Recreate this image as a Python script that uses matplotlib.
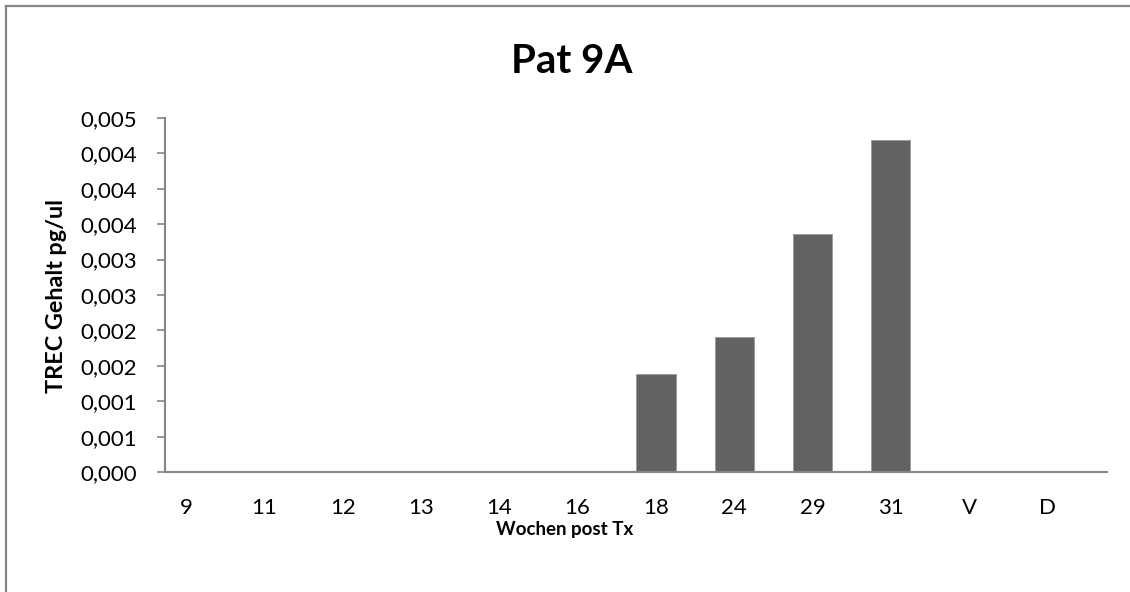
import matplotlib
matplotlib.use("Agg")
import matplotlib.pyplot as plt
from matplotlib.lines import Line2D

# TREC content per week after transplant
weeks = ['9', '11', '12', '13', '14', '16', '18', '24', '29', '31', 'V', 'D']
trec = [0, 0, 0, 0, 0, 0, 0.001382, 0.001903, 0.003356, 0.004681, 0, 0]

yticks = [0, 0.0005, 0.001, 0.0015, 0.002, 0.0025, 0.003, 0.0035, 0.004, 0.0045, 0.005]
ytick_labels = ['0,000', '0,001', '0,001', '0,002', '0,002', '0,003',
                '0,003', '0,004', '0,004', '0,004', '0,005']

plt.rcParams['font.family'] = ['Lato', 'DejaVu Sans']
axis_grey = '#868686'

fig = plt.figure(figsize=(11.3, 5.92), dpi=100)
ax = fig.add_axes([0.146, 0.2022, 0.8336, 0.599])

x = list(range(len(weeks)))
ax.bar(x, trec, width=0.5, color='#636363', edgecolor='#9a9a9a', linewidth=0.6, zorder=2)

ax.set_xlim(-0.27, 11.76)
ax.set_ylim(0, 0.005)
ax.set_xticks(x)
ax.set_xticklabels(weeks, fontsize=16)
ax.set_yticks(yticks)
ax.set_yticklabels(ytick_labels, fontsize=16)

ax.tick_params(axis='x', length=0, pad=18.5)
ax.tick_params(axis='y', length=5.8, width=1.2, color=axis_grey, pad=14.4)

for side in ['top', 'right']:
    ax.spines[side].set_visible(False)
for side in ['left', 'bottom']:
    ax.spines[side].set_color(axis_grey)
    ax.spines[side].set_linewidth(1.5)

# titles placed in figure coordinates
fig.text(0.506, 0.8772, 'Pat 9A', fontsize=29, fontweight='bold',
         ha='center', va='baseline')
fig.text(0.5, 0.106, 'Wochen post Tx', fontsize=13.5, fontweight='bold',
         ha='center', va='center')
fig.text(0.0504, 0.5, 'TREC Gehalt pg/ul', fontsize=16.8, fontweight='bold',
         ha='center', va='center', rotation=90)

# chart frame (top and left edges)
fig.add_artist(Line2D([0.0053, 0.0053], [0, 0.9907], transform=fig.transFigure,
                      color=axis_grey, linewidth=1.6))
fig.add_artist(Line2D([0.0053, 1], [0.9907, 0.9907], transform=fig.transFigure,
                      color=axis_grey, linewidth=1.6))

fig.savefig('out.png', dpi=100)
